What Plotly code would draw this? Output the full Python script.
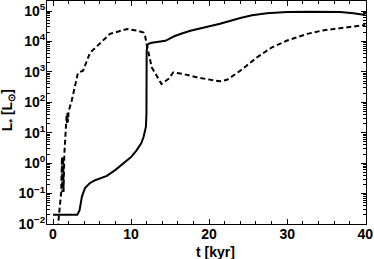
import plotly.graph_objects as go

# Solid curve: time [kyr] and log10(L/Lsun)
solid_t = [0, 3.1, 3.4, 3.7, 4.1, 4.7, 5.4, 6.9, 8.0, 9.0, 10.0, 10.7, 11.3, 11.6, 11.9,
           11.97, 12.0, 12.1, 12.3, 12.65, 13.5, 14.4, 15.0, 15.6, 16.5, 17.6, 19.5, 21.4,
           24.0, 25.5, 27.4, 30, 33, 36.8, 38.5, 40]
solid_logL = [-1.70, -1.70, -1.55, -1.1, -0.82, -0.66, -0.56, -0.42, -0.22, -0.01, 0.2, 0.42,
              0.65, 0.86, 1.19, 1.6, 3.7, 3.88, 3.93, 3.96, 3.99, 4.02, 4.1, 4.18, 4.26, 4.35,
              4.47, 4.58, 4.77, 4.86, 4.93, 4.97, 4.98, 4.97, 4.93, 4.87]

# Dashed curve
dashed_t = [0.6, 1.05, 1.15, 1.2, 1.3, 1.35, 1.45, 1.6, 1.75, 1.8, 1.85, 1.9, 2.0, 2.4, 3.2,
            3.85, 4.75, 6.0, 7.3, 9.5, 10.9, 11.6, 11.8, 12.0, 12.65, 13.9, 14.8, 15.4, 16.7,
            18.8, 21.4, 22.3, 24.0, 26.1, 28.0, 30.0, 32.6, 34.5, 36.8, 38.5, 40]
dashed_logL = [-2.15, -0.95, 0.2, -0.95, 0.2, -0.95, 0.3, 0.9, 1.6, 1.3, 1.65, 1.35, 1.7, 2.06,
               2.97, 3.04, 3.63, 3.95, 4.25, 4.41, 4.35, 4.29, 4.18, 3.91, 3.15, 2.6, 2.77, 2.98,
               2.93, 2.8, 2.69, 2.74, 3.04, 3.47, 3.8, 4.03, 4.25, 4.36, 4.44, 4.5, 4.54]

x_tickvals = [0, 10, 20, 30, 40]
y_tickvals = [1e-2, 1e-1, 1e0, 1e1, 1e2, 1e3, 1e4, 1e5]
y_ticktext = ["10<sup>−2</sup>", "10<sup>−1</sup>", "10<sup>0</sup>", "10<sup>1</sup>",
              "10<sup>2</sup>", "10<sup>3</sup>", "10<sup>4</sup>", "10<sup>5</sup>"]
y_minor = [m * 10 ** e for e in range(-2, 6) for m in range(2, 10) if m * 10 ** e < 2.2e5]

FONT = "Liberation Sans"

fig = go.Figure()
fig.add_trace(go.Scatter(x=solid_t, y=[10 ** v for v in solid_logL], mode="lines",
                         line=dict(color="black", width=2), showlegend=False))
fig.add_trace(go.Scatter(x=dashed_t, y=[10 ** v for v in dashed_logL], mode="lines",
                         line=dict(color="black", width=2, dash="5px,3px"), showlegend=False))

fig.update_layout(
    width=374, height=259,
    margin=dict(l=47, r=8, t=1, b=35),
    plot_bgcolor="white", paper_bgcolor="white",
    font=dict(family=FONT, size=14, color="black", weight="bold"),
    showlegend=False,
)
fig.update_xaxes(
    range=[-0.77, 40.1], tickvals=x_tickvals, ticks="inside", ticklen=5,
    tickcolor="black", showline=True, linecolor="black", linewidth=1, mirror="allticks",
    showgrid=False, zeroline=False, automargin=False, ticklabelstandoff=-3,
    minor=dict(dtick=2, tick0=0, ticks="inside", ticklen=3, tickcolor="black"),
    tickfont=dict(family=FONT, size=14, weight="bold"),
)
fig.update_yaxes(
    type="log", range=[-2, 5.33], tickvals=y_tickvals, ticktext=y_ticktext,
    ticks="inside", ticklen=5, ticklabelstandoff=-2,
    tickcolor="black", showline=True, linecolor="black", linewidth=1, mirror="allticks",
    showgrid=False, zeroline=False, automargin=False,
    minor=dict(tickvals=y_minor, ticks="inside", ticklen=3, tickcolor="black"),
    tickfont=dict(family=FONT, size=14, weight="bold"),
)
fig.add_annotation(text="t [kyr]", xref="paper", yref="paper", x=0.527, y=-0.157,
                   xanchor="center", yanchor="bottom", showarrow=False, borderpad=0, yshift=-2,
                   font=dict(family=FONT, size=14, weight="bold"))
fig.add_annotation(text="L<sub>*</sub> [L<sub>⊙</sub>]", xref="paper", yref="paper",
                   x=-0.122, y=0.51, textangle=-90,
                   xanchor="center", yanchor="middle", showarrow=False,
                   font=dict(family=FONT, size=14, weight="bold"))

fig.write_html("out.html", config={"displayModeBar": False},
               post_script="document.body.style.margin='0';document.body.style.overflow='hidden';")
